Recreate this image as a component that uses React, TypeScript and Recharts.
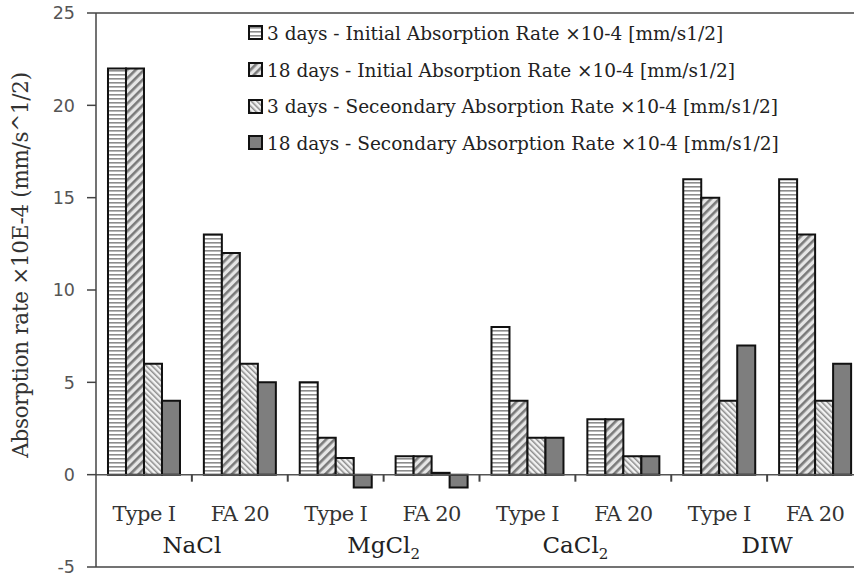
import { BarChart, Bar, XAxis, YAxis, ReferenceLine, Legend } from 'recharts';

// solutions and binder types, one row per (solution, binder)
const groups = ['NaCl', 'MgCl2', 'CaCl2', 'DIW'];
const types = ['Type I', 'FA 20'];

// absorption rates x10-4
const initial3 = [22, 13, 5, 1, 8, 3, 16, 16];
const initial18 = [22, 12, 2, 1, 4, 3, 15, 13];
const secondary3 = [6, 6, 0.9, 0.1, 2, 1, 4, 4];
const secondary18 = [4, 5, -0.7, -0.7, 2, 1, 7, 6];

const yTicks = [-5, 0, 5, 10, 15, 20, 25];

const seriesNames = [
  '3 days - Initial Absorption Rate ×10-4 [mm/s1/2]',
  '18 days - Initial Absorption Rate ×10-4 [mm/s1/2]',
  '3 days - Seceondary Absorption Rate ×10-4 [mm/s1/2]',
  '18 days - Secondary Absorption Rate ×10-4 [mm/s1/2]',
];
const seriesKeys = ['s1', 's2', 's3', 's4'];
const fills = ['url(#pHoriz)', 'url(#pFwd)', 'url(#pBack)', '#7e7e7e'];

const rows = groups.flatMap((g, gi) =>
  types.map((t, ti) => {
    const i = gi * types.length + ti;
    return {
      key: `${g}|${t}`,
      group: g,
      s1: initial3[i],
      s2: initial18[i],
      s3: secondary3[i],
      s4: secondary18[i],
    };
  })
);

const serif = '"DejaVu Serif", serif';

const TypeTick = (props: any) => {
  const { x, y, payload } = props;
  const label = String(payload.value).split('|')[1];
  return (
    <text
      x={x}
      y={y}
      dy={-55}
      textAnchor="middle"
      fontFamily={serif}
      fontSize={21}
      letterSpacing={-0.6}
      fill="#333"
    >
      {label}
    </text>
  );
};

const GroupTick = (props: any) => {
  const { x, y, payload } = props;
  const v = String(payload.value);
  const m = v.match(/^(.*Cl)(2)$/);
  return (
    <text x={x} y={y} dy={-22} textAnchor="middle" fontFamily={serif} fontSize={23} fill="#222">
      {m ? (
        <>
          {m[1]}
          <tspan fontSize={15} dy={6}>{m[2]}</tspan>
        </>
      ) : (
        v
      )}
    </text>
  );
};

const YLabel = (props: any) => {
  const { viewBox } = props;
  const cx = 20;
  const cy = viewBox.y + viewBox.height / 2 - 25;
  return (
    <text
      transform={`translate(${cx},${cy}) rotate(-90)`}
      textAnchor="middle"
      dominantBaseline="central"
      fontFamily={serif}
      fontSize={21.5}
      letterSpacing={-0.3}
      fill="#333"
    >
      Absorption rate ×10E-4 (mm/s^1/2)
    </text>
  );
};

const LegendBox = () => (
  <div style={{ fontFamily: serif, fontSize: 18.5, color: '#222' }}>
    {seriesNames.map((n, i) => (
      <div key={n} style={{ display: 'flex', alignItems: 'center', height: 36.7 }}>
        <svg width={16} height={16}>
          <rect x={1} y={1} width={13} height={13} fill={fills[i]} stroke="#111" strokeWidth={2} />
        </svg>
        <span style={{ marginLeft: 3, whiteSpace: 'nowrap' }}>{n}</span>
      </div>
    ))}
  </div>
);

export default function App() {
  return (
    <div
      style={{
        position: 'fixed',
        top: 0,
        left: 0,
        width: 854,
        height: 578,
        overflow: 'hidden',
        background: '#fff',
      }}
    >
      <BarChart
        width={878}
        height={578}
        data={rows}
        margin={{ top: 13, right: 15, bottom: 9, left: 0 }}
        barGap={0}
        barCategoryGap="12.5%"
      >
        <defs>
          <pattern id="pHoriz" width="4" height="4" patternUnits="userSpaceOnUse">
            <rect width="4" height="4" fill="#fff" />
            <rect y="2" width="4" height="1.6" fill="#8c8c8c" />
          </pattern>
          <pattern id="pFwd" width="6" height="6" patternUnits="userSpaceOnUse" patternTransform="rotate(45)">
            <rect width="6" height="6" fill="#e6e6e6" />
            <rect width="2.6" height="6" fill="#7a7a7a" />
          </pattern>
          <pattern id="pBack" width="4" height="4" patternUnits="userSpaceOnUse" patternTransform="rotate(-45)">
            <rect width="4" height="4" fill="#f2f2f2" />
            <rect width="1.5" height="4" fill="#8c8c8c" />
          </pattern>
        </defs>
        <XAxis
          xAxisId="main"
          dataKey="key"
          height={1}
          axisLine={false}
          tickLine={false}
          interval={0}
          tick={<TypeTick />}
        />
        <XAxis
          xAxisId="group"
          dataKey="group"
          allowDuplicatedCategory={false}
          height={1}
          axisLine={false}
          tickLine={false}
          interval={0}
          tick={<GroupTick />}
        />
        <YAxis
          width={96}
          domain={[-5, 25]}
          ticks={yTicks}
          interval={0}
          tickSize={9}
          tickMargin={12}
          axisLine={{ stroke: '#444', strokeWidth: 1.5 }}
          tickLine={{ stroke: '#444', strokeWidth: 1.5 }}
          tick={{ fill: '#555', fontSize: 17.5, fontFamily: '"DejaVu Sans", sans-serif' }}
          label={<YLabel />}
        />
        <ReferenceLine xAxisId="main" y={25} stroke="#444" strokeWidth={1.5} />
        <ReferenceLine xAxisId="main" y={-5} stroke="#444" strokeWidth={1.5} />
        <ReferenceLine xAxisId="main" y={0} stroke="#555" strokeWidth={1.5} />
        {rows.slice(1).map((r) => (
          <ReferenceLine
            key={r.key}
            xAxisId="main"
            position="start"
            segment={[
              { x: r.key, y: 0 },
              { x: r.key, y: -0.38 },
            ]}
            stroke="#444"
            strokeWidth={2}
          />
        ))}
        {seriesKeys.map((k, i) => (
          <Bar
            key={k}
            xAxisId="main"
            dataKey={k}
            name={seriesNames[i]}
            fill={fills[i]}
            stroke="#111"
            strokeWidth={2}
            isAnimationActive={false}
          />
        ))}
        <Legend
          layout="vertical"
          align="center"
          verticalAlign="middle"
          content={<LegendBox />}
          wrapperStyle={{ position: 'absolute', left: 248, top: 15, width: 'auto' }}
        />
      </BarChart>
    </div>
  );
}
